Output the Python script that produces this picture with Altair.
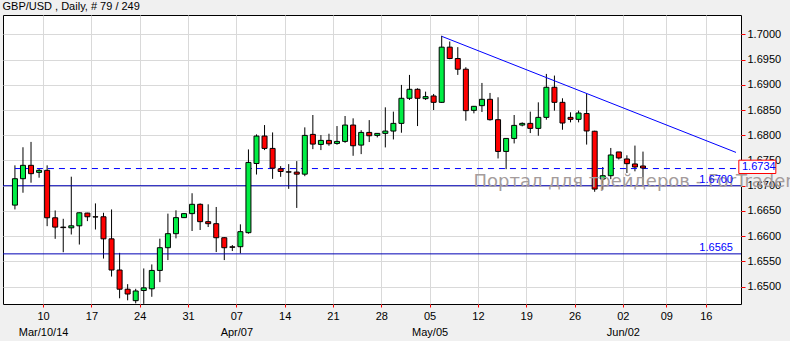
import altair as alt
import pandas as pd

# ---- data ----
opens = [1.66616, 1.67139, 1.67404, 1.67265, 1.67305, 1.66365, 1.66180, 1.66166, 1.66206, 1.66458,
         1.66385, 1.66385, 1.65948, 1.65330, 1.64950, 1.64723, 1.64924, 1.64958, 1.65322, 1.65772,
         1.66050, 1.66368, 1.66447, 1.66632, 1.66288, 1.66248, 1.65970, 1.65790, 1.65792, 1.66070,
         1.67440, 1.67984, 1.67739, 1.67335, 1.67275, 1.67270, 1.67229, 1.68017, 1.67818, 1.67898,
         1.67838, 1.67878, 1.68202, 1.67805, 1.68056, 1.67997, 1.68037, 1.68083, 1.68235, 1.68732,
         1.68910, 1.68725, 1.68778, 1.68652, 1.69745, 1.69520, 1.69308, 1.68493, 1.68586, 1.68712,
         1.68308, 1.67679, 1.67937, 1.68202, 1.68235, 1.68136, 1.68354, 1.68950, 1.68652, 1.68354,
         1.68315, 1.68430, 1.68079, 1.67133, 1.67199, 1.67669, 1.67530, 1.67431, 1.67391]
highs = [1.67404, 1.67762, 1.67868, 1.67338, 1.67404, 1.66510, 1.66345, 1.67179, 1.66470, 1.66464,
         1.66650, 1.66464, 1.66530, 1.65670, 1.65050, 1.64958, 1.65361, 1.65441, 1.65951, 1.66447,
         1.66513, 1.66460, 1.66851, 1.66650, 1.66632, 1.66579, 1.65980, 1.65825, 1.66235, 1.67719,
         1.68017, 1.68202, 1.68056, 1.67388, 1.67428, 1.67487, 1.68156, 1.68401, 1.68003, 1.68030,
         1.68182, 1.68381, 1.68335, 1.68100, 1.68300, 1.68040, 1.68553, 1.68467, 1.68997, 1.69195,
         1.68930, 1.68864, 1.68818, 1.69970, 1.69857, 1.69745, 1.69347, 1.68580, 1.69036, 1.68838,
         1.68752, 1.67940, 1.68401, 1.68255, 1.68467, 1.68652, 1.69215, 1.69182, 1.68732, 1.68454,
         1.68487, 1.68820, 1.68090, 1.67371, 1.67748, 1.67670, 1.67603, 1.67795, 1.67676]
lows = [1.66530, 1.66861, 1.67060, 1.67159, 1.66199, 1.65948, 1.65683, 1.66034, 1.65835, 1.66299,
        1.66133, 1.65557, 1.65200, 1.64770, 1.64730, 1.64670, 1.64660, 1.64800, 1.65090, 1.65527,
        1.65957, 1.66360, 1.66103, 1.66123, 1.66182, 1.65686, 1.65527, 1.65706, 1.65659, 1.66050,
        1.67222, 1.67706, 1.67136, 1.67176, 1.66938, 1.66560, 1.67189, 1.67725, 1.67706, 1.67792,
        1.67812, 1.67850, 1.67593, 1.67626, 1.67865, 1.67957, 1.67759, 1.67917, 1.68050, 1.68699,
        1.68182, 1.68699, 1.68500, 1.68640, 1.69506, 1.69195, 1.68288, 1.68434, 1.68460, 1.68290,
        1.67540, 1.67328, 1.67838, 1.68176, 1.68043, 1.67990, 1.68308, 1.68487, 1.68109, 1.68255,
        1.68255, 1.67815, 1.66880, 1.66921, 1.67130, 1.67520, 1.67252, 1.67285, 1.66974]
closes = [1.67139, 1.67404, 1.67239, 1.67305, 1.66365, 1.66180, 1.66170, 1.66206, 1.66464, 1.66385,
          1.66380, 1.65948, 1.65330, 1.64950, 1.64855, 1.64915, 1.64977, 1.65322, 1.65772, 1.66050,
          1.66368, 1.66447, 1.66632, 1.66288, 1.66248, 1.65970, 1.65772, 1.65780, 1.66090, 1.67461,
          1.67984, 1.67739, 1.67348, 1.67282, 1.67270, 1.67229, 1.67997, 1.67825, 1.67898, 1.67831,
          1.67878, 1.68202, 1.67792, 1.68056, 1.67990, 1.68037, 1.68083, 1.68235, 1.68732, 1.68910,
          1.68732, 1.68765, 1.68652, 1.69745, 1.69520, 1.69308, 1.68487, 1.68573, 1.68712, 1.68308,
          1.67679, 1.67937, 1.68195, 1.68235, 1.68136, 1.68354, 1.68950, 1.68652, 1.68242, 1.68315,
          1.68440, 1.68085, 1.66934, 1.67199, 1.67609, 1.67550, 1.67437, 1.67371, 1.67351]

# x-axis ticks (bar-index positions) and their labels
tick_pos = [3.5, 9.5, 15.5, 21.5, 27.5, 33.5, 39.5, 45.5, 51.5, 57.5, 63.5, 69.5, 75.5, 80.9, 85.8]
tick_day = ["10", "17", "24", "31", "07", "14", "21", "28", "05", "12", "19", "26", "02", "09", "16"]
tick_month = ["Mar/10/14", "", "", "", "Apr/07", "", "", "", "May/05", "", "", "", "Jun/02", "", ""]

y_ticks = [1.6500, 1.6550, 1.6600, 1.6650, 1.6700, 1.6750, 1.6800, 1.6850, 1.6900, 1.6950, 1.7000]

levels = [1.6700, 1.6565]
level_labels = ["1.6700", "1.6565"]
bid_price = 1.6734
trend_x = [53, 89.55]
trend_y = [1.6996, 1.6766]

X_MIN, X_MAX = -0.86, 89.55
Y_MIN, Y_MAX = 1.64657, 1.70382
BOX_X = 92.2        # centre of the price tag, just right of the plot
BOX_Y = 1.67374     # the tag sits a touch above the bid line

title_text = "GBP/USD , Daily, # 79 / 249"
watermark = "Портал для трейдеров - ForTrader.ru"

FONT = "Liberation Sans"
GREEN = "#00ee44"
RED = "#ff0000"
BLUE = "#0000ff"
LEVEL_BLUE = "#0000b4"

# ---- build ----
df = pd.DataFrame({"i": list(range(len(opens))), "open": opens, "high": highs,
                   "low": lows, "close": closes})
df["dir"] = ["up" if c > o else "down" for o, c in zip(opens, closes)]

parts = []
for p, d, m in zip(tick_pos, tick_day, tick_month):
    lab = f"['{d}', '{m}']" if m else f"['{d}']"
    parts.append(f"abs(datum.value - {p}) < 0.01 ? {lab} : ")
label_expr = "".join(parts) + "''"

xs = alt.Scale(domain=[X_MIN, X_MAX], nice=False, zero=False)
ys = alt.Scale(domain=[Y_MIN, Y_MAX], nice=False, zero=False)

x_axis = alt.Axis(values=tick_pos, labelExpr=label_expr, grid=True, gridColor="#d9d9d9",
                  domain=False, tickColor="#ff0000", tickSize=3, labelPadding=3,
                  labelFont=FONT, labelFontSize=11, labelColor="black",
                  labelOverlap=False, labelFlush=False, labelLineHeight=16, title=None)
y_axis = alt.Axis(values=y_ticks, format=".4f", orient="right", grid=True, gridColor="#d9d9d9",
                  domain=False, tickColor="#ff0000", tickSize=4, labelPadding=2,
                  labelFont=FONT, labelFontSize=11, labelColor="black",
                  labelOverlap=False, labelFlush=False, title=None)


def X(field):
    return alt.X(field, scale=xs, axis=x_axis)


def Y(field):
    return alt.Y(field, scale=ys, axis=y_axis)


base = alt.Chart(df)

wicks = base.mark_rule(color="black", strokeWidth=1).encode(
    x=X("i:Q"), y=Y("low:Q"), y2="high:Q")

bodies = base.mark_bar(size=5, stroke="black", strokeWidth=1).encode(
    x=X("i:Q"), y=Y("open:Q"), y2="close:Q",
    color=alt.Color("dir:N", scale=alt.Scale(domain=["up", "down"], range=[GREEN, RED]), legend=None),
)

lev_df = pd.DataFrame({"y": levels, "label": level_labels, "x": [X_MAX] * len(levels)})
level_rules = alt.Chart(lev_df).mark_rule(color=LEVEL_BLUE, strokeWidth=1).encode(y=Y("y:Q"))
level_text = alt.Chart(lev_df).mark_text(align="right", baseline="bottom", dx=-3, dy=-1,
                                          font=FONT, fontSize=11, color=BLUE).encode(
    x=X("x:Q"), y=Y("y:Q"), text="label:N")

bid_df = pd.DataFrame({"x": [0], "x2": [X_MAX], "bx": [BOX_X], "by": [BOX_Y],
                       "y": [bid_price], "label": [f"{bid_price:.4f}"]})
bid_line = alt.Chart(bid_df).mark_rule(color=BLUE, strokeWidth=1, strokeDash=[6, 5]).encode(
    x=X("x:Q"), x2="x2:Q", y=Y("y:Q"))
bid_box = alt.Chart(bid_df).mark_point(
    shape="M-1,-0.36L1,-0.36L1,0.36L-1,0.36Z", size=1369, filled=True,
    fill="white", stroke="#ff0000", strokeWidth=1, opacity=1, fillOpacity=1,
    clip=False).encode(x=X("bx:Q"), y=Y("by:Q"))
bid_text = alt.Chart(bid_df).mark_text(align="left", baseline="middle", dx=6, dy=0,
                                        font=FONT, fontSize=11, color=BLUE, clip=False).encode(
    x=X("x2:Q"), y=Y("by:Q"), text="label:N")

trend_df = pd.DataFrame({"x": trend_x, "y": trend_y})
trend = alt.Chart(trend_df).mark_line(color=BLUE, strokeWidth=1, clip=True).encode(
    x=X("x:Q"), y=Y("y:Q"))

wm_df = pd.DataFrame({"x": [56.95], "y": [1.6698], "t": [watermark]})
wm = alt.Chart(wm_df).mark_text(align="left", baseline="alphabetic", font="DejaVu Sans",
                                fontSize=18, color="#a49c9c", clip=False).encode(
    x=X("x:Q"), y=Y("y:Q"), text="t:N")

chart = alt.layer(
    wicks, level_rules, trend, bid_line, bodies, wm, level_text, bid_box, bid_text
).properties(
    width=738, height=289,
    title=alt.TitleParams(title_text, anchor="start", fontSize=11, font=FONT,
                          fontWeight="normal", color="black", offset=3, baseline="alphabetic",
                          dy=9),
    autosize=alt.AutoSizeParams(type="none"),
    padding={"left": 3, "top": 15, "right": 49, "bottom": 37},
    background="#f0f0f0",
).configure_view(
    stroke="black", strokeWidth=1, fill="white"
)

chart.save("out.html", embed_options={"renderer": "svg", "actions": False})
